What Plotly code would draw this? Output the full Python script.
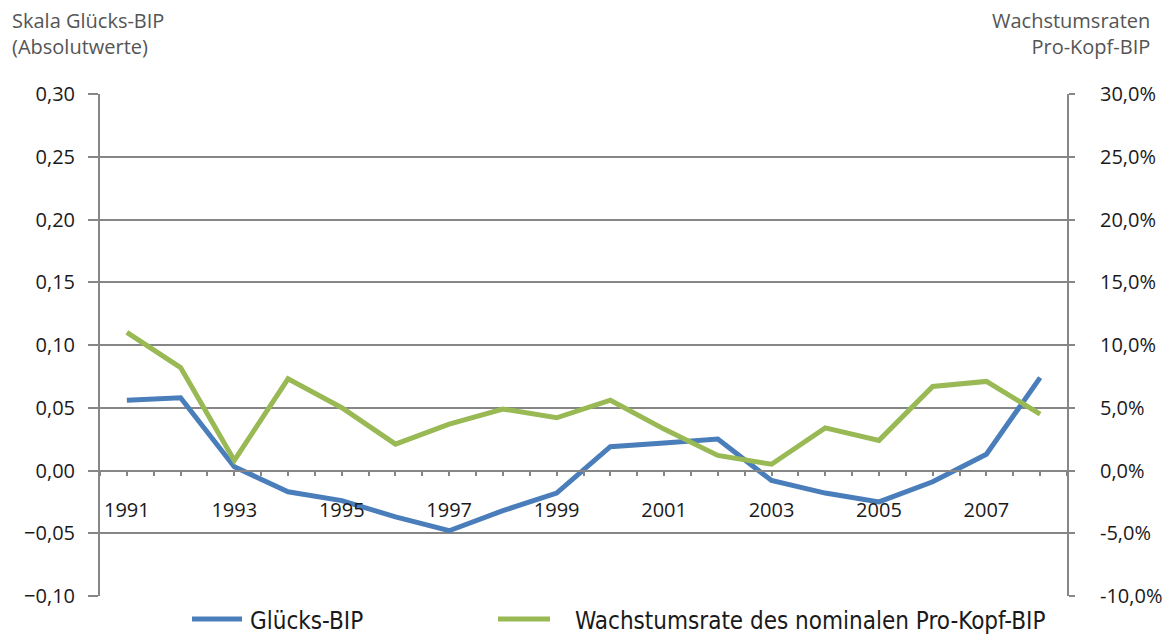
import plotly.graph_objects as go

years = list(range(1991, 2009))
gluecks_bip = [0.056, 0.058, 0.003, -0.017, -0.024, -0.037, -0.048, -0.032, -0.018,
               0.019, 0.022, 0.025, -0.008, -0.018, -0.025, -0.009, 0.013, 0.074]
wachstum_pct = [11.0, 8.2, 0.8, 7.3, 5.0, 2.1, 3.7, 4.9, 4.2,
                5.6, 3.3, 1.2, 0.5, 3.4, 2.4, 6.7, 7.1, 4.5]
label_years = [1991, 1993, 1995, 1997, 1999, 2001, 2003, 2005, 2007]
left_ticks = [-0.10, -0.05, 0.0, 0.05, 0.10, 0.15, 0.20, 0.25, 0.30]
right_ticks = [-10, -5, 0, 5, 10, 15, 20, 25, 30]
right_ticktext = [f"{v:.1f}%".replace(".", ",") for v in right_ticks]
series_names = ["Glücks-BIP", "Wachstumsrate des nominalen Pro-Kopf-BIP"]

BLUE = "#4A7EBB"
GREEN = "#98B954"
GRID = "#868686"
FONT = "Open Sans, DejaVu Sans, sans-serif"
LEGEND_FONT = "Liberation Sans Narrow, DejaVu Sans Condensed, Liberation Sans, sans-serif"

ML, MR, MT, MB = 100, 97, 94, 45
PW, PH = 1164 - ML - MR, 641 - MT - MB  # plot area size in px


def px_x(x):
    return (x - ML) / PW


def px_y(y):
    return (641 - MB - y) / PH


fig = go.Figure()
fig.add_trace(go.Scatter(x=years, y=gluecks_bip, mode="lines", name=series_names[0],
                         line=dict(color=BLUE, width=5), yaxis="y", showlegend=False))
fig.add_trace(go.Scatter(x=years, y=wachstum_pct, mode="lines", name=series_names[1],
                         line=dict(color=GREEN, width=5), yaxis="y2", showlegend=False))

tickfont = dict(family=FONT, size=20, color="#1a1a1a")

fig.update_layout(
    width=1164, height=641,
    margin=dict(l=ML, r=MR, t=MT, b=MB, autoexpand=False),
    paper_bgcolor="white", plot_bgcolor="white",
    separators=", ",
    font=dict(family=FONT, size=14, color="#222"),
    showlegend=False,
    xaxis=dict(range=[1990.5, 2008.5], tickvals=label_years,
               ticktext=[str(y) for y in label_years],
               showgrid=False, zeroline=False, automargin=False,
               showline=True, linecolor=GRID, linewidth=2,
               anchor="free", position=0.25,
               ticks="outside", ticklen=4, tickcolor=GRID, tickwidth=2,
               minor=dict(tick0=0.5, dtick=0.5, ticks="outside", ticklen=4,
                          tickcolor=GRID, tickwidth=2, showgrid=False),
               ticklabelstandoff=17,
               tickfont=tickfont),
    yaxis=dict(range=[-0.10, 0.30], tickvals=left_ticks, tickformat=".2f",
               showgrid=True, gridcolor=GRID, gridwidth=2, zeroline=False,
               automargin=False,
               showline=True, linecolor=GRID, linewidth=2,
               ticks="outside", ticklen=10, tickcolor=GRID, tickwidth=2,
               ticklabelstandoff=9,
               tickfont=tickfont),
    yaxis2=dict(range=[-10, 30], tickvals=right_ticks, ticktext=right_ticktext,
                overlaying="y", side="right", showgrid=False, zeroline=False,
                automargin=False,
                showline=True, linecolor=GRID, linewidth=2,
                ticks="outside", ticklen=6, tickcolor=GRID, tickwidth=2,
                ticklabelstandoff=21,
                tickfont=tickfont),
)

# legend (drawn as keys + labels below the plot)
legend_items = [(series_names[0], BLUE, 192, 242, 248),
                (series_names[1], GREEN, 498, 550, 573)]
for name, color, x0, x1, tx in legend_items:
    fig.add_shape(type="line", xref="paper", yref="paper",
                  x0=px_x(x0), x1=px_x(x1), y0=px_y(619), y1=px_y(619),
                  line=dict(color=color, width=5))
    fig.add_annotation(text=name, xref="paper", yref="paper",
                       x=px_x(tx), y=px_y(621), xanchor="left", yanchor="middle",
                       showarrow=False,
                       font=dict(family=LEGEND_FONT, size=24, color="#1a1a1a"))

ann_font = dict(family=FONT, size=20, color="#555555")
fig.add_annotation(text="Skala Glücks-BIP<br>(Absolutwerte)", xref="paper", yref="paper",
                   x=px_x(10), y=px_y(5), xanchor="left", yanchor="top",
                   align="left", showarrow=False, font=ann_font)
fig.add_annotation(text="Wachstumsraten<br>Pro-Kopf-BIP", xref="paper", yref="paper",
                   x=px_x(1152), y=px_y(5), xanchor="right", yanchor="top",
                   align="right", showarrow=False, font=ann_font)

fig.write_html("out.html", config={"displayModeBar": False},
               post_script="document.body.style.margin='0px';")
